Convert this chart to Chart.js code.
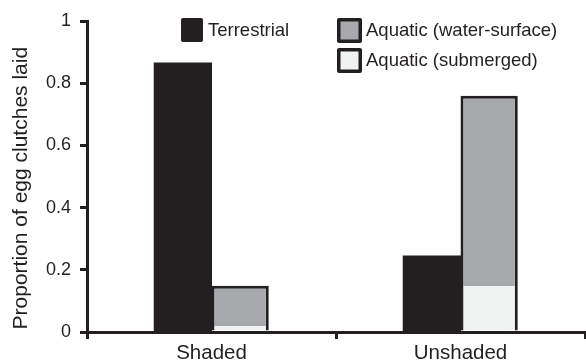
<!DOCTYPE html>
<html>
<head>
<meta charset="utf-8">
<script src="https://cdn.jsdelivr.net/npm/chart.js@4/dist/chart.umd.min.js"></script>
<style>
html,body{margin:0;padding:0;background:#fff;}
#wrap{width:586px;height:363px;position:relative;}
</style>
</head>
<body>
<div id="wrap"><canvas id="c" width="586" height="363"></canvas></div>
<script>
// ---- data ----
const categories = ['Shaded', 'Unshaded'];
const terrestrial = [0.865, 0.244];
const aquaticSubmerged = [0.019, 0.148];
const aquaticSurface = [0.13, 0.612];
const yTickValues = [0, 0.2, 0.4, 0.6, 0.8, 1];
const seriesNames = ['Terrestrial', 'Aquatic (water-surface)', 'Aquatic (submerged)'];

const INK = '#231f20';
const GREY = '#a7a9ac';
const LIGHT = '#f1f2f2';
const FONT = "'Liberation Sans', Arial, Helvetica, sans-serif";

const legendPlugin = {
  id: 'customLegend',
  afterDraw(chart) {
    const ctx = chart.ctx;
    ctx.save();
    ctx.font = '18.5px ' + FONT;
    ctx.textBaseline = 'middle';
    // Terrestrial
    ctx.fillStyle = INK;
    ctx.beginPath();
    ctx.roundRect(181, 18, 22, 24, 2);
    ctx.fill();
    ctx.fillText(seriesNames[0], 208, 31);
    const drawBox = (x, y, fill) => {
      ctx.fillStyle = INK;
      ctx.beginPath();
      ctx.roundRect(x, y, 25, 25, 2);
      ctx.fill();
      ctx.fillStyle = fill;
      ctx.fillRect(x + 3.5, y + 3.5, 18, 18);
    };
    drawBox(337, 18, GREY);
    ctx.fillStyle = INK;
    ctx.fillText(seriesNames[1], 366, 31);
    drawBox(337, 48, LIGHT);
    ctx.fillStyle = INK;
    ctx.fillText(seriesNames[2], 366, 61);
    ctx.restore();
  }
};

new Chart(document.getElementById('c'), {
  type: 'bar',
  data: {
    labels: categories,
    datasets: [
      {
        label: seriesNames[0],
        data: terrestrial,
        backgroundColor: INK,
        borderWidth: 0,
        inflateAmount: 0.5,
        stack: 'terr'
      },
      {
        label: seriesNames[2],
        data: aquaticSubmerged,
        backgroundColor: LIGHT,
        borderColor: INK,
        borderWidth: { left: 3, right: 3, top: 0, bottom: 0 },
        borderSkipped: false,
        stack: 'aqua'
      },
      {
        label: seriesNames[1],
        data: aquaticSurface,
        backgroundColor: GREY,
        borderColor: INK,
        borderWidth: { left: 3, right: 3, top: 3, bottom: 0 },
        borderSkipped: false,
        stack: 'aqua'
      }
    ]
  },
  options: {
    responsive: false,
    animation: false,
    devicePixelRatio: 1,
    layout: { padding: { left: 0, right: 1, top: 21, bottom: 0 } },
    plugins: { legend: { display: false }, tooltip: { enabled: false } },
    datasets: { bar: { categoryPercentage: 0.46, barPercentage: 1.0, inflateAmount: 0 } },
    scales: {
      x: {
        stacked: true,
        z: 1,
        border: { display: true, color: INK, width: 3 },
        grid: { display: true, offset: true, drawOnChartArea: false, drawTicks: true, tickLength: 7, color: INK, lineWidth: 3 },
        ticks: { color: INK, font: { family: FONT, size: 20.5 }, padding: 2 },
        afterFit(scale) { scale.height = 31; }
      },
      y: {
        stacked: true,
        z: 1,
        min: 0,
        max: 1,
        afterBuildTicks(scale) { scale.ticks = yTickValues.map(v => ({ value: v })); },
        border: { display: true, color: INK, width: 3 },
        grid: { display: true, drawOnChartArea: false, drawTicks: true, tickLength: 7, color: INK, lineWidth: 3 },
        ticks: { color: INK, font: { family: FONT, size: 18 }, padding: 9,
                 callback: (v) => String(v) },
        title: { display: true, text: 'Proportion of egg clutches laid    ', color: INK,
                 font: { family: FONT, size: 21 }, padding: { top: 9, bottom: 0 } },
        afterFit(scale) { scale.width = 87; }
      }
    }
  },
  plugins: [legendPlugin]
});
</script>
</body>
</html>
